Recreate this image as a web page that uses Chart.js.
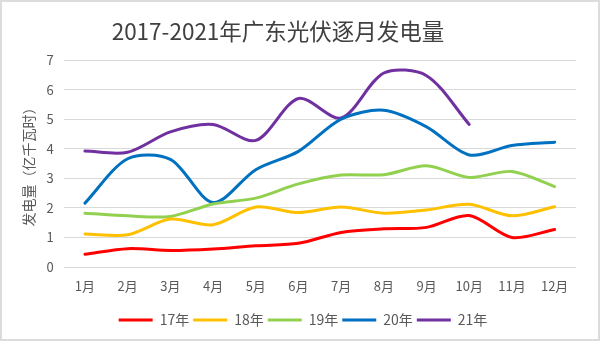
<!DOCTYPE html>
<html>
<head>
<meta charset="utf-8">
<script src="https://cdn.jsdelivr.net/npm/chart.js@4/dist/chart.umd.min.js"></script>
<style>
  body { margin: 0; background: #fff; }
  #wrap { position: relative; width: 600px; height: 341px; }
  #wrap canvas { position: absolute; left: 0; top: 0; }
  #frame {
    position: absolute; left: 0; top: 0; width: 600px; height: 341px;
    box-sizing: border-box; border: 2px solid #dcdcdc; pointer-events: none;
  }
</style>
</head>
<body>
<div id="wrap">
  <canvas id="chart" width="600" height="341"></canvas>
  <div id="frame"></div>
</div>
<script>
// monthly PV generation in Guangdong, 100 million kWh
const months = ['1月', '2月', '3月', '4月', '5月', '6月', '7月', '8月', '9月', '10月', '11月', '12月'];
const y2017 = [0.43, 0.62, 0.56, 0.61, 0.72, 0.8, 1.17, 1.29, 1.34, 1.74, 1.0, 1.27];
const y2018 = [1.12, 1.09, 1.62, 1.43, 2.03, 1.84, 2.03, 1.82, 1.93, 2.12, 1.73, 2.04];
const y2019 = [1.82, 1.73, 1.71, 2.13, 2.33, 2.81, 3.11, 3.12, 3.42, 3.03, 3.23, 2.72];
const y2020 = [2.16, 3.66, 3.64, 2.18, 3.29, 3.91, 5.0, 5.3, 4.74, 3.79, 4.11, 4.22];
const y2021 = [3.92, 3.88, 4.57, 4.82, 4.28, 5.7, 5.04, 6.56, 6.47, 4.82];

const seriesNames = ['17年', '18年', '19年', '20年', '21年'];
const seriesColors = ['#ff0000', '#ffc000', '#92d050', '#0070c0', '#7030a0'];
const seriesData = [y2017, y2018, y2019, y2020, y2021];

const titleText = '2017-2021年广东光伏逐月发电量';
const axisTitle = '发电量（亿千瓦时）';
const font = "'Noto Sans CJK SC', 'Noto Sans', sans-serif";
const gray = '#595959';

// chart heading, placed a bit left of centre
const heading = {
  id: 'heading',
  afterDraw(chart) {
    const ctx = chart.ctx;
    ctx.save();
    ctx.font = '22.5px ' + font;
    ctx.fillStyle = '#404040';
    ctx.textAlign = 'center';
    ctx.textBaseline = 'middle';
    ctx.fillText(titleText, 278, 31);
    ctx.restore();
  }
};

// centre the legend under the whole canvas rather than the padded box
const legendShift = {
  id: 'legendShift',
  afterLayout(chart) {
    if (chart.legend) {
      chart.legend.left += 7;
      chart.legend.right += 7;
    }
  }
};

new Chart(document.getElementById('chart'), {
  type: 'line',
  data: {
    labels: months,
    datasets: seriesData.map((d, i) => ({
      label: seriesNames[i],
      data: d,
      borderColor: seriesColors[i],
      backgroundColor: seriesColors[i],
      borderWidth: 3,
      borderCapStyle: 'round',
      pointRadius: 0,
      tension: 0.3,
      fill: false
    }))
  },
  options: {
    responsive: false,
    animation: false,
    layout: { padding: { top: 60, right: 24, left: 16, bottom: 4 } },
    plugins: {
      title: { display: false },
      tooltip: { enabled: false },
      legend: {
        position: 'bottom',
        labels: {
          usePointStyle: true,
          pointStyle: 'line',
          pointStyleWidth: 34,
          padding: 4,
          color: gray,
          font: { family: font, size: 14 }
        }
      }
    },
    scales: {
      x: {
        offset: true,
        grid: { display: false, drawTicks: false },
        border: { display: false },
        ticks: { color: gray, padding: 11, font: { family: font, size: 13 } },
        afterFit(s) { s.height = 42; }
      },
      y: {
        min: 0,
        max: 7,
        grid: { color: '#d9d9d9', drawTicks: false },
        border: { display: false },
        ticks: { stepSize: 1, color: gray, padding: 10, font: { family: font, size: 13 } },
        title: { display: true, text: axisTitle, color: gray, font: { family: font, size: 14 } },
        afterFit(s) { s.width = 47.6; }
      }
    }
  },
  plugins: [heading, legendShift]
});
</script>
</body>
</html>
